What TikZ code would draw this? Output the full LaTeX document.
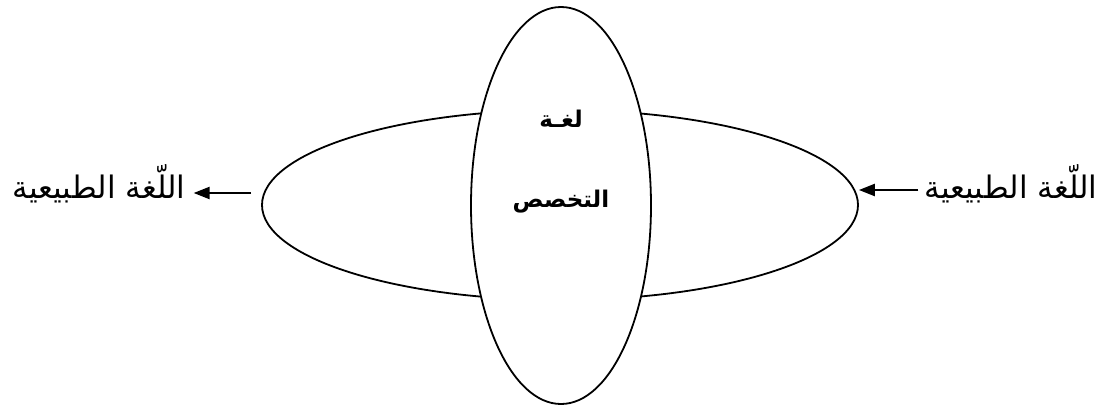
\documentclass[tikz,border=0pt]{standalone}
\usepackage{fontspec}
\newfontfamily\arabicfont[Script=Arabic]{DejaVu Sans}
\TeXXeTstate=1
\usetikzlibrary{arrows.meta,shapes.geometric,positioning}

\tikzset{
    field/.style={draw, ellipse, line width=1.8pt, fill=white, inner sep=0pt},
    lbl/.style={font=\arabicfont\fontsize{31}{36}\selectfont, inner sep=0pt},
    core/.style={font=\arabicfont\bfseries\fontsize{23}{28}\selectfont, inner sep=0pt},
    arr/.style={line width=2.4pt, -{Triangle[length=16pt, width=12pt]}}
}

\begin{document}
\begin{tikzpicture}
\useasboundingbox (0pt,0pt) rectangle (1109pt,-410pt);
% horizontal and vertical ellipses
\node[field, minimum width=596pt, minimum height=190pt] (nat) at (560pt,-205pt) {};
\node[field, minimum width=180pt, minimum height=397pt] (spec) at (561pt,-205.5pt) {};
\node[core] (t1) at (561pt,-119pt) {\beginR لغـة\endR};
\node[core] (t2) at (561pt,-202pt) {\beginR التخصص\endR};
% side labels
\node[lbl] (left) at (99pt,-184pt) {\beginR اللّغة الطبيعية\endR};
\node[lbl] (right) at (1011pt,-184pt) {\beginR اللّغة الطبيعية\endR};
\coordinate (lstart) at ([xshift=-10pt,yshift=12pt]nat.west);
\coordinate (rend) at ([yshift=15pt]nat.east);
\draw[arr] (lstart) -- ([xshift=8pt]left.east |- lstart);
\draw[arr] ([xshift=-6pt]right.west |- rend) -- (rend);
\end{tikzpicture}
\end{document}
